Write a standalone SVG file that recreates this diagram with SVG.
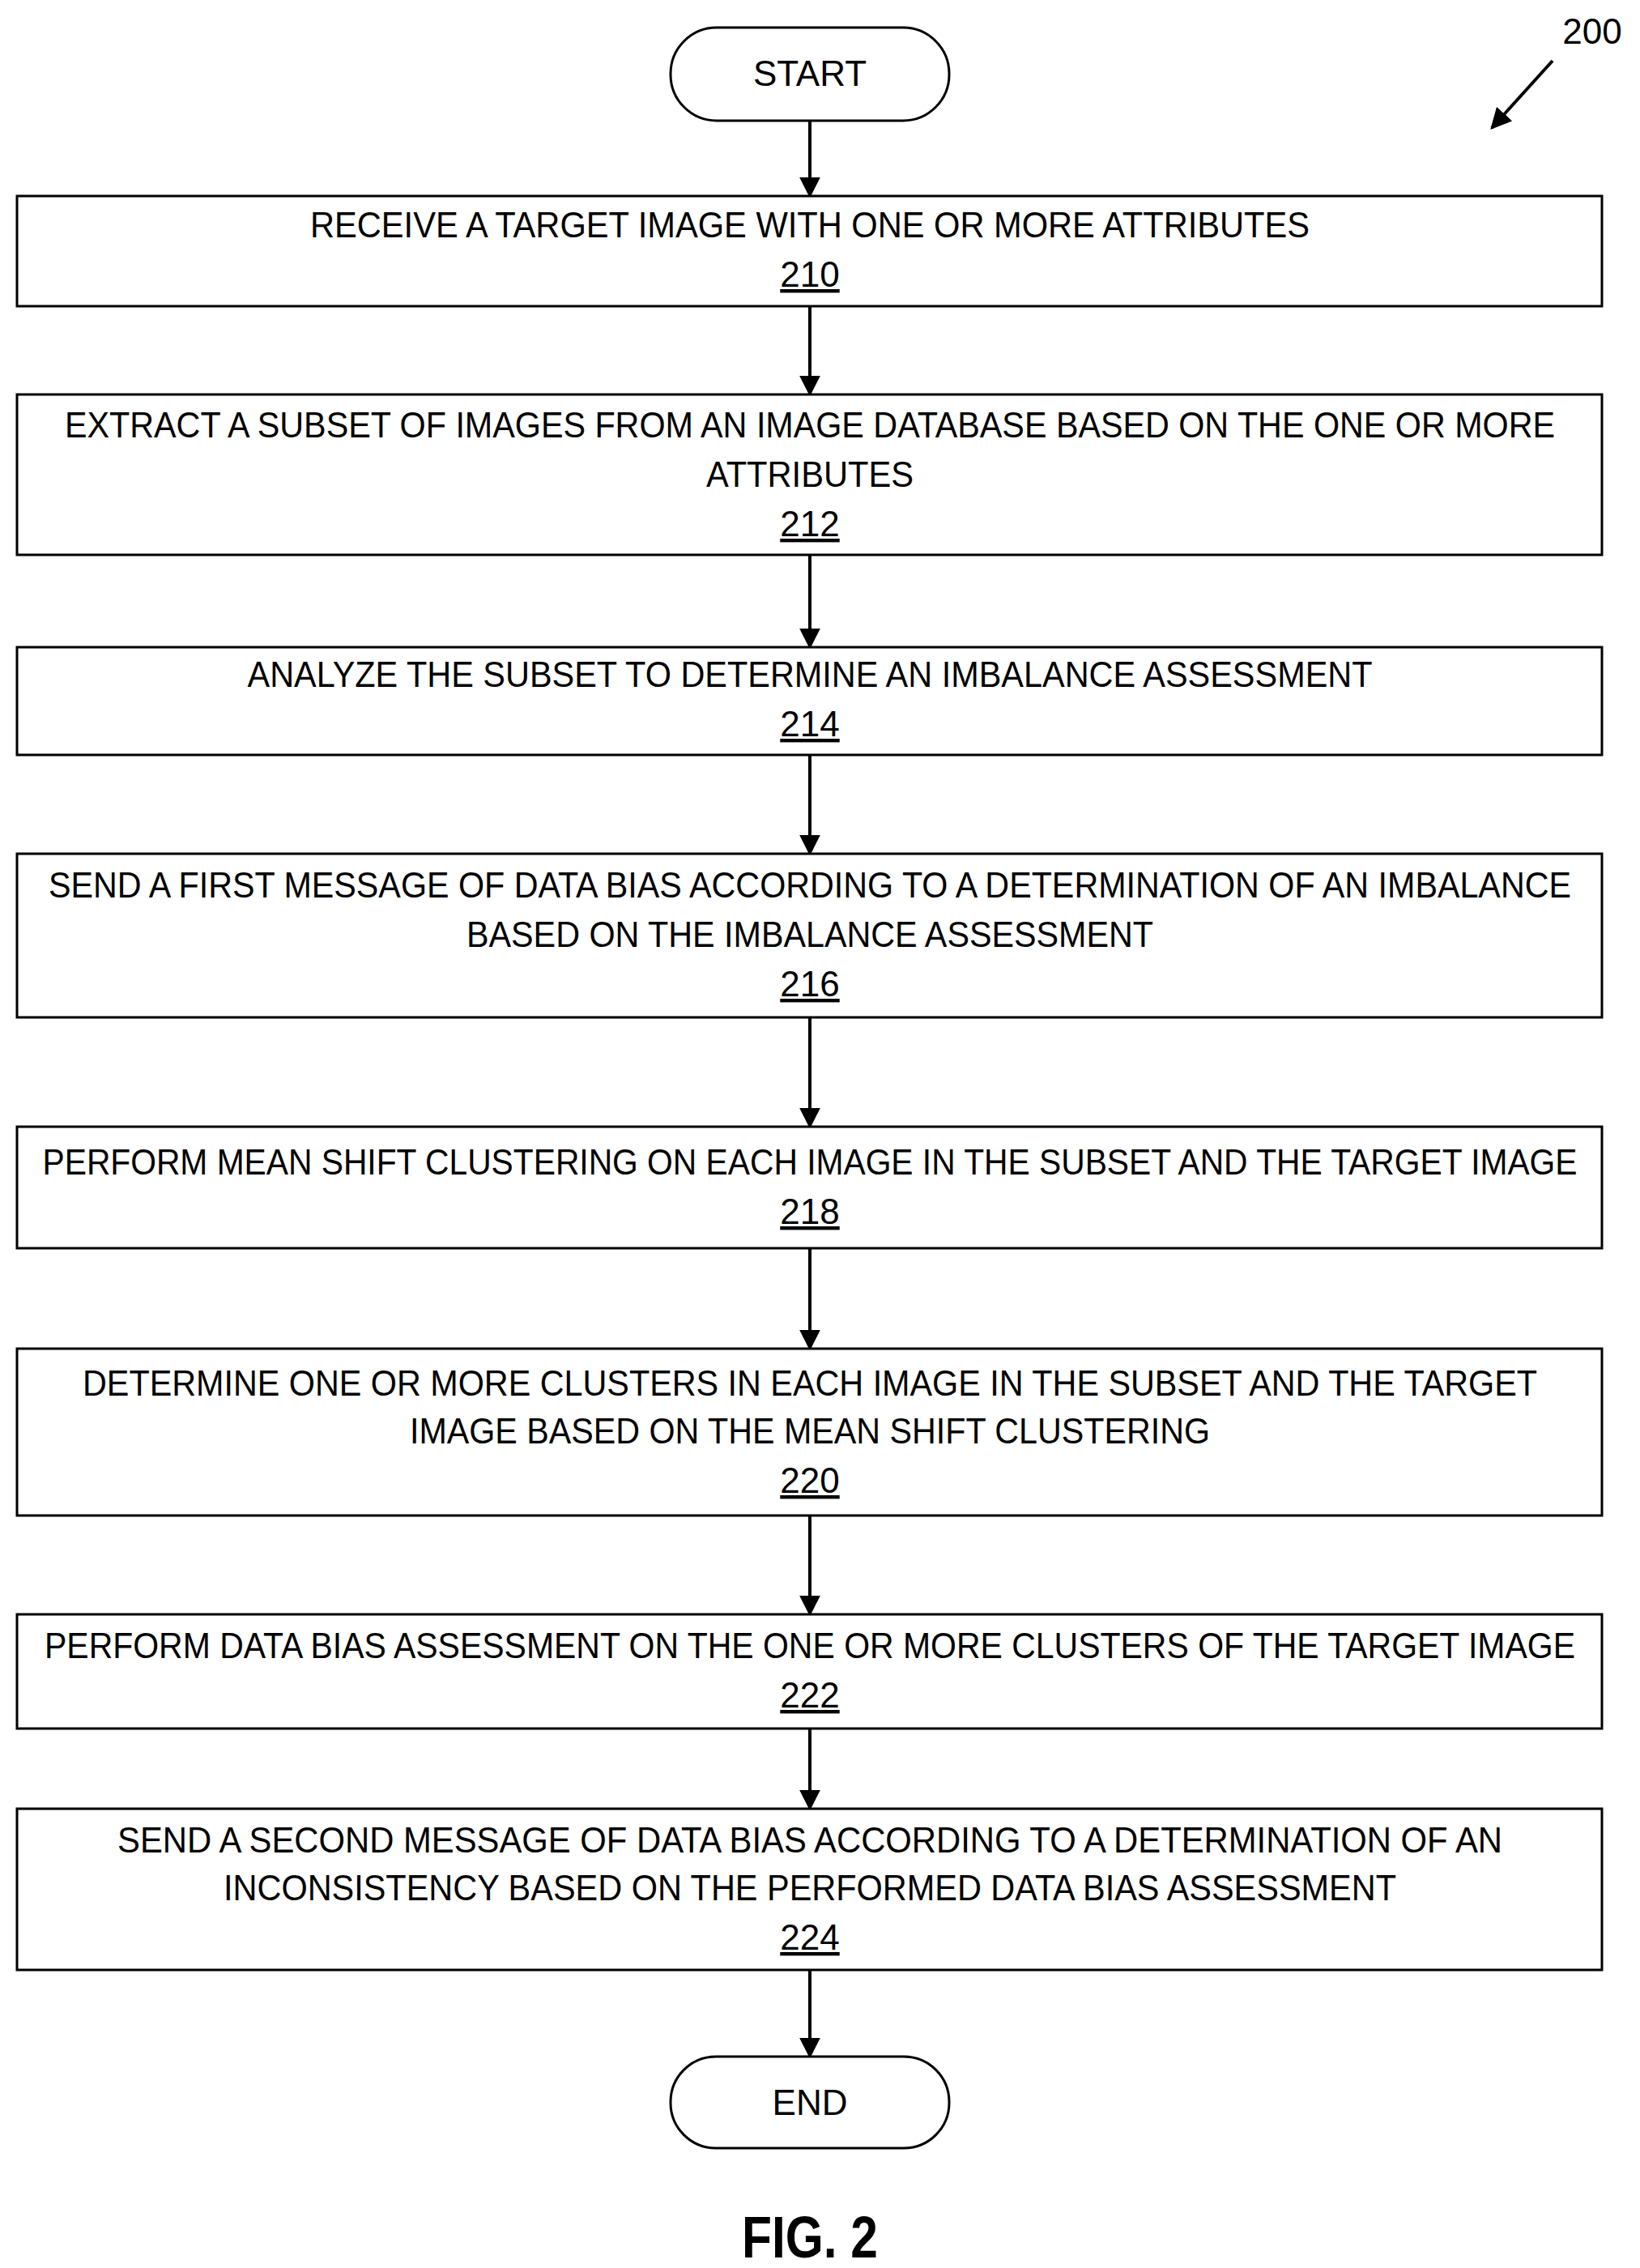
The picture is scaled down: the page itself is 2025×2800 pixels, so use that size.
<svg xmlns="http://www.w3.org/2000/svg" width="2025" height="2800" viewBox="0 0 2025 2800">
<style>
.b{fill:#fff;stroke:#000;stroke-width:3}
.t{font-family:"Liberation Sans",Arial,sans-serif;font-size:44px;text-anchor:middle;fill:#000}
.n{font-family:"Liberation Sans",Arial,sans-serif;font-size:44px;text-anchor:middle;fill:#000;text-decoration:underline}
.c{stroke:#000;stroke-width:4;fill:none;marker-end:url(#ah)}
</style>
<defs>
<marker id="ah" viewBox="0 0 10 10" refX="9" refY="5" markerWidth="26" markerHeight="26" orient="auto" markerUnits="userSpaceOnUse"><path d="M0,0L10,5L0,10z"/></marker></defs>
<g id="connectors">
<line class="c" x1="1000" y1="149" x2="1000" y2="242"/>
<line class="c" x1="1000" y1="378" x2="1000" y2="487"/>
<line class="c" x1="1000" y1="685" x2="1000" y2="799"/>
<line class="c" x1="1000" y1="932" x2="1000" y2="1054"/>
<line class="c" x1="1000" y1="1256" x2="1000" y2="1391"/>
<line class="c" x1="1000" y1="1541" x2="1000" y2="1665"/>
<line class="c" x1="1000" y1="1871" x2="1000" y2="1993"/>
<line class="c" x1="1000" y1="2134" x2="1000" y2="2233"/>
<line class="c" x1="1000" y1="2432" x2="1000" y2="2539"/>
<line class="c" x1="1917" y1="75" x2="1842" y2="158"/>
</g>
<g id="start"><rect class="b" x="828" y="34" width="344" height="115" rx="57"/><text class="t" x="1000" y="106">START</text></g>
<g id="n210"><rect class="b" x="21" y="242" width="1957" height="136"/><text class="t" x="1000" y="293" textLength="1234" lengthAdjust="spacingAndGlyphs">RECEIVE A TARGET IMAGE WITH ONE OR MORE ATTRIBUTES</text><text class="n" x="1000" y="354">210</text></g>
<g id="n212"><rect class="b" x="21" y="487" width="1957" height="198"/><text class="t" x="1000" y="540" textLength="1840" lengthAdjust="spacingAndGlyphs">EXTRACT A SUBSET OF IMAGES FROM AN IMAGE DATABASE BASED ON THE ONE OR MORE</text><text class="t" x="1000" y="601" textLength="256" lengthAdjust="spacingAndGlyphs">ATTRIBUTES</text><text class="n" x="1000" y="662">212</text></g>
<g id="n214"><rect class="b" x="21" y="799" width="1957" height="133"/><text class="t" x="1000" y="848" textLength="1389" lengthAdjust="spacingAndGlyphs">ANALYZE THE SUBSET TO DETERMINE AN IMBALANCE ASSESSMENT</text><text class="n" x="1000" y="909">214</text></g>
<g id="n216"><rect class="b" x="21" y="1054" width="1957" height="202"/><text class="t" x="1000" y="1108" textLength="1880" lengthAdjust="spacingAndGlyphs">SEND A FIRST MESSAGE OF DATA BIAS ACCORDING TO A DETERMINATION OF AN IMBALANCE</text><text class="t" x="1000" y="1169" textLength="848" lengthAdjust="spacingAndGlyphs">BASED ON THE IMBALANCE ASSESSMENT</text><text class="n" x="1000" y="1230">216</text></g>
<g id="n218"><rect class="b" x="21" y="1391" width="1957" height="150"/><text class="t" x="1000" y="1450" textLength="1895" lengthAdjust="spacingAndGlyphs">PERFORM MEAN SHIFT CLUSTERING ON EACH IMAGE IN THE SUBSET AND THE TARGET IMAGE</text><text class="n" x="1000" y="1511">218</text></g>
<g id="n220"><rect class="b" x="21" y="1665" width="1957" height="206"/><text class="t" x="1000" y="1723" textLength="1796" lengthAdjust="spacingAndGlyphs">DETERMINE ONE OR MORE CLUSTERS IN EACH IMAGE IN THE SUBSET AND THE TARGET</text><text class="t" x="1000" y="1782" textLength="988" lengthAdjust="spacingAndGlyphs">IMAGE BASED ON THE MEAN SHIFT CLUSTERING</text><text class="n" x="1000" y="1843">220</text></g>
<g id="n222"><rect class="b" x="21" y="1993" width="1957" height="141"/><text class="t" x="1000" y="2047" textLength="1890" lengthAdjust="spacingAndGlyphs">PERFORM DATA BIAS ASSESSMENT ON THE ONE OR MORE CLUSTERS OF THE TARGET IMAGE</text><text class="n" x="1000" y="2108">222</text></g>
<g id="n224"><rect class="b" x="21" y="2233" width="1957" height="199"/><text class="t" x="1000" y="2287" textLength="1710" lengthAdjust="spacingAndGlyphs">SEND A SECOND MESSAGE OF DATA BIAS ACCORDING TO A DETERMINATION OF AN</text><text class="t" x="1000" y="2346" textLength="1448" lengthAdjust="spacingAndGlyphs">INCONSISTENCY BASED ON THE PERFORMED DATA BIAS ASSESSMENT</text><text class="n" x="1000" y="2407">224</text></g>
<g id="end"><rect class="b" x="828" y="2539" width="344" height="113" rx="56"/><text class="t" x="1000" y="2611">END</text></g>
<text class="t" x="1966" y="54">200</text>
<text x="1000" y="2787" style="font-family:'Liberation Sans',Arial,sans-serif;font-size:72px;font-weight:bold;text-anchor:middle" textLength="168" lengthAdjust="spacingAndGlyphs">FIG. 2</text>
</svg>
